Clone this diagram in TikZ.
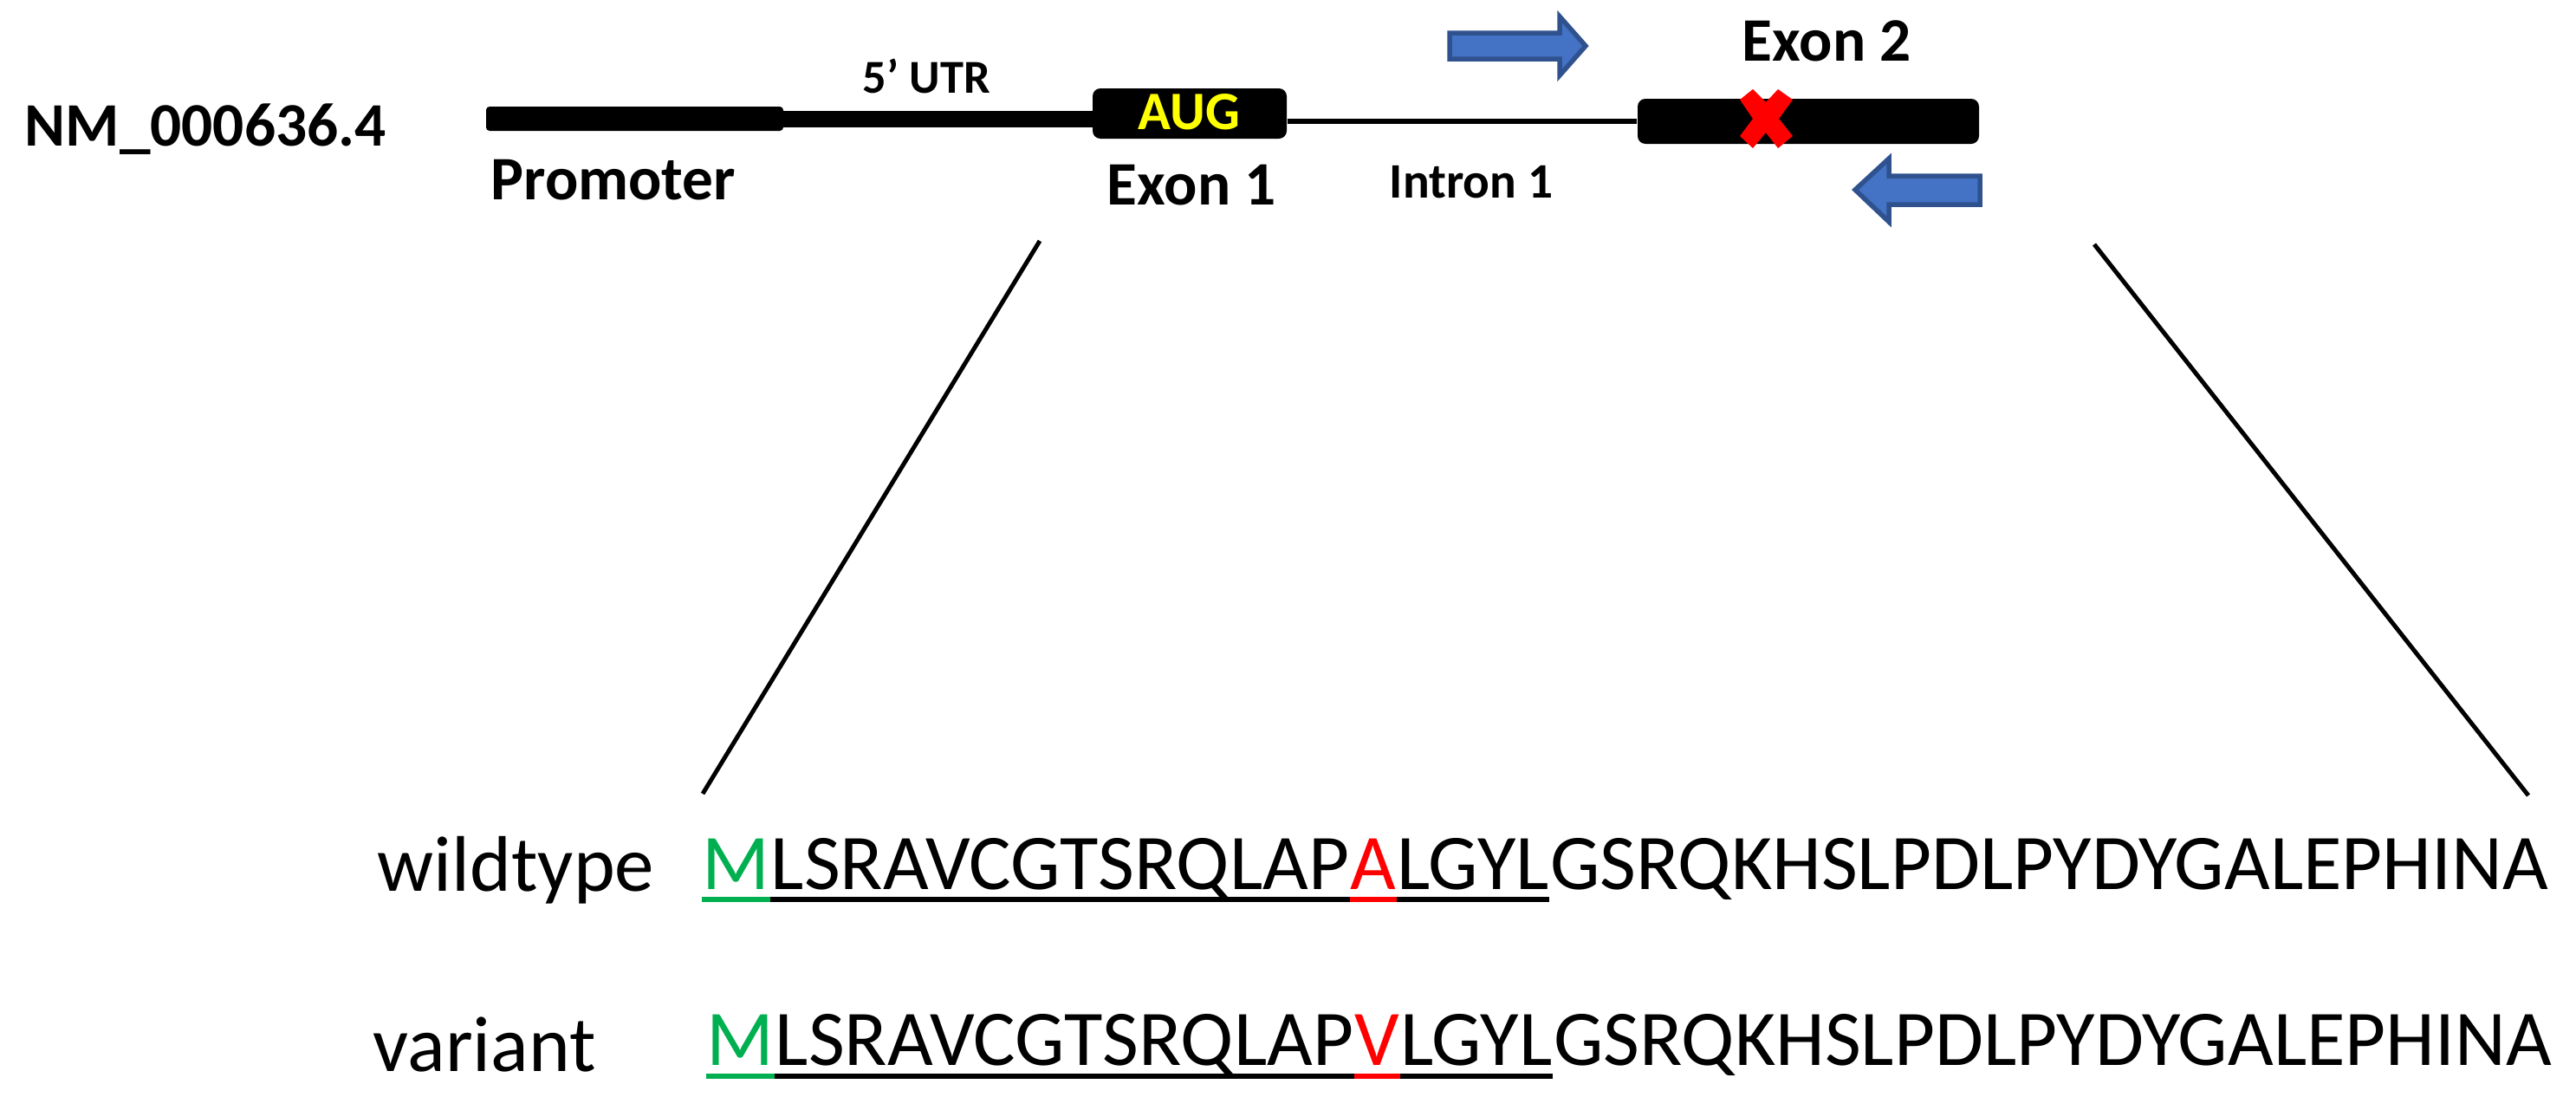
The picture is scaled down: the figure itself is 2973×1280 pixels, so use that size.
\documentclass[tikz,border=0pt]{standalone}
\usepackage{fontspec}
\setmainfont{Carlito}
\definecolor{seqgreen}{HTML}{00B050}
\definecolor{arrowfill}{HTML}{4472C4}
\definecolor{arrowdraw}{HTML}{2F528F}
\definecolor{augyellow}{HTML}{FFFF00}
\tikzset{
  lbl/.style={inner sep=0pt, anchor=base west, font=\fontsize{20.3pt}{24pt}\selectfont\bfseries},
  seq/.style={inner sep=0pt, anchor=base west, font=\fontsize{25.9pt}{31pt}\selectfont},
  genebox/.style={fill=black, inner sep=0pt, rounded corners=0.9mm},
  uline/.style={line width=0.6mm},
  primer/.style={fill=arrowfill, draw=arrowdraw, line width=0.55mm, line join=miter},
  zoomline/.style={line width=0.5mm},
}
\begin{document}
\begin{tikzpicture}[x=0.1mm,y=-0.1mm]
\useasboundingbox[fill=white] (0,0) rectangle (2973,1280);

% gene structure
\node[genebox, rounded corners=0.4mm, minimum width=34.3mm, minimum height=2.8mm] (prom) at (732.5,137) {};
\node[fill=black, inner sep=0pt, minimum width=36mm, minimum height=1.9mm] (utr) at (1083,137.5) {};
\node[genebox, minimum width=22.4mm, minimum height=5.8mm] (exon1) at (1373,131) {};
\node[genebox, minimum width=39.4mm, minimum height=5.2mm] (exon2) at (2087,140) {};
\draw[line width=0.6mm] (exon1.east |- 0,140) -- (exon2.west);

% mutation cross
\fill[red] (2008,115) -- (2023,103) -- (2038,118) -- (2052,103) -- (2069,115) -- (2053,137)
  -- (2069,157) -- (2052,171) -- (2038,153) -- (2023,171) -- (2008,157) -- (2023,137) -- cycle;

% primers
\draw[primer] (1673,38) -- (1800,38) -- (1800,19) -- (1830,53) -- (1800,87) -- (1800,68) -- (1673,68) -- cycle;
\draw[primer] (2285,203) -- (2180,203) -- (2180,183) -- (2141,219) -- (2180,256) -- (2180,236) -- (2285,236) -- cycle;

% labels
\node[lbl] (nm) at (28,168) {NM\_000636.4};
\node[lbl] (promlbl) at (566,230) {Promoter};
\node[lbl, font=\fontsize{15.5pt}{18pt}\selectfont\bfseries] (utrlbl) at (995,107) {5’ UTR};
\node[lbl, font=\fontsize{17.8pt}{20pt}\selectfont\bfseries, text=augyellow] (aug) at (1313,149) {AUG};
\node[lbl] (ex1lbl) at (1277,236) {Exon 1};
\node[lbl, font=\fontsize{16.3pt}{19pt}\selectfont\bfseries] (intlbl) at (1603,228) {Intron 1};
\node[lbl] (ex2lbl) at (2010,70) {Exon 2};

% zoom lines
\coordinate (zl1) at (1200,278);
\coordinate (zl2) at (811,916);
\coordinate (zr1) at (2417,282);
\coordinate (zr2) at (2918,918);
\draw[zoomline] (zl1) -- (zl2);
\draw[zoomline] (zr1) -- (zr2);

% wildtype row
\node[seq] (wtlbl) at (435,1028) {wildtype};
\node[seq, text=seqgreen] (wm) at (810,1026) {M};
\node[seq] (wa1) at (wm.base east) {LSRAVCGTSRQLAP};
\node[seq, text=red] (wx) at (wa1.base east) {A};
\node[seq] (wa2) at (wx.base east) {LGYL};
\node[seq] (wa3) at (wa2.base east) {GSRQKHSLPDLPYDYGALEPHINA};
\draw[uline, seqgreen] ([yshift=-1.2mm]wm.base west) -- ([yshift=-1.2mm]wm.base east);
\draw[uline] ([yshift=-1.2mm]wa1.base west) -- ([yshift=-1.2mm]wa1.base east);
\draw[uline, red] ([yshift=-1.2mm]wx.base west) -- ([yshift=-1.2mm]wx.base east);
\draw[uline] ([yshift=-1.2mm]wa2.base west) -- ([yshift=-1.2mm]wa2.base east);

% variant row
\node[seq] (varlbl) at (430,1236) {variant};
\node[seq, text=seqgreen] (vm) at (815,1229) {M};
\node[seq] (va1) at (vm.base east) {LSRAVCGTSRQLAP};
\node[seq, text=red] (vx) at (va1.base east) {V};
\node[seq] (va2) at (vx.base east) {LGYL};
\node[seq] (va3) at (va2.base east) {GSRQKHSLPDLPYDYGALEPHINA};
\draw[uline, seqgreen] ([yshift=-1.3mm]vm.base west) -- ([yshift=-1.3mm]vm.base east);
\draw[uline] ([yshift=-1.3mm]va1.base west) -- ([yshift=-1.3mm]va1.base east);
\draw[uline, red] ([yshift=-1.3mm]vx.base west) -- ([yshift=-1.3mm]vx.base east);
\draw[uline] ([yshift=-1.3mm]va2.base west) -- ([yshift=-1.3mm]va2.base east);
\end{tikzpicture}
\end{document}
